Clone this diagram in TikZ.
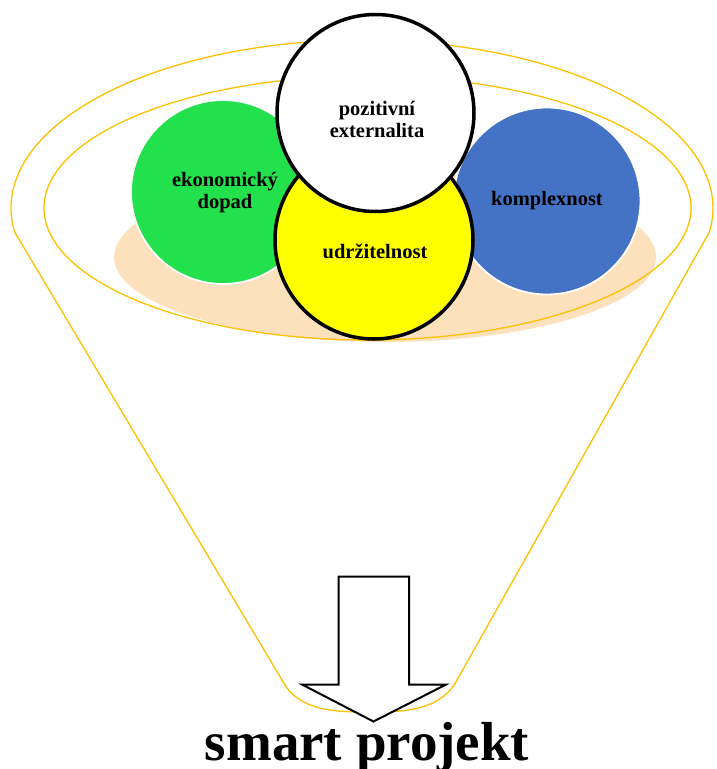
\documentclass[tikz,border=0pt]{standalone}
\usepackage{fontspec}
\setmainfont{Liberation Serif}
\definecolor{funnelorange}{HTML}{FFC000}
\definecolor{peach}{HTML}{FDE0BC}
\definecolor{ekogreen}{HTML}{23E04D}
\definecolor{kompblue}{HTML}{4472C4}
\definecolor{udryellow}{HTML}{FFFF00}
\tikzset{
  funnelline/.style={draw=funnelorange, line width=1.3pt},
  softcircle/.style={circle, draw=white, line width=1.8pt, inner sep=0pt},
  boldcircle/.style={circle, draw=black, line width=3.5pt, inner sep=0pt},
  circlelabel/.style={align=center, inner sep=0pt, font=\bfseries\fontsize{20.5}{22}\selectfont},
}
\begin{document}
\begin{tikzpicture}[x=1pt,y=-1pt]
\useasboundingbox (0,0) rectangle (716,769);
% peach base
\fill[peach] (385,257) ellipse [x radius=271, y radius=85];
% funnel outline
\draw[funnelline] (14.6,232) arc[start angle=171.8, end angle=368.2, x radius=351, y radius=168]
  -- (457,680) .. controls (440,712) and (400,712) .. (369,712)
  .. controls (338,712) and (298,712) .. (282,680) -- cycle;
% inner ellipse
\draw[funnelline] (367.5,208) ellipse [x radius=323.5, y radius=132];
% circles
\node[softcircle, fill=ekogreen, minimum size=184pt] (eko) at (223,192) {};
\node[softcircle, fill=kompblue, minimum size=187pt] (komp) at (547,201) {};
\node[boldcircle, fill=udryellow, minimum size=198pt] (udr) at (374,240) {};
\node[boldcircle, fill=white, minimum size=197pt] (poz) at (375.5,113) {};
% labels
\node[circlelabel] (ekot) at (225,193) {ekonomický\\dopad};
\node[circlelabel] (kompt) at (547,201) {komplexnost};
\node[circlelabel] (udrt) at (375,251) {udržitelnost};
\node[circlelabel] (pozt) at (377,119) {pozitivní\\externalita};
% arrow
\draw[black, line width=2pt, fill=white, line join=miter]
  (338.5,576.5) -- (409,576.5) -- (409,684.5) -- (446,684.5) -- (373.5,721.5)
  -- (302,684.5) -- (338.5,684.5) -- cycle;
% result text
\node[anchor=base, inner sep=0pt, font=\bfseries\fontsize{55}{60}\selectfont] (res) at (367,760) {smart projekt};
\end{tikzpicture}
\end{document}
